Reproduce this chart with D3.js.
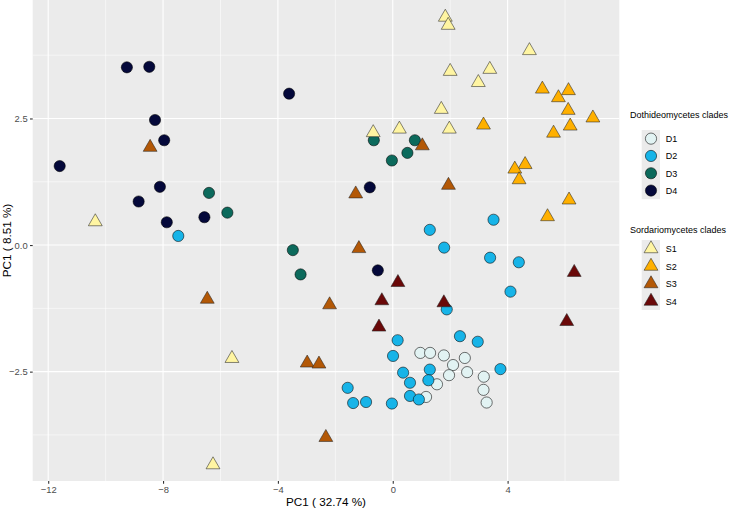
<!DOCTYPE html>
<html lang="en">
<head>
	<meta charset="utf-8">
	<title>PCA clades</title>
	<script src="https://d3js.org/d3.v7.min.js"></script>
	<style>
		body { margin: 0; background: #fff; }
		text { font-family: "Liberation Sans", Arial, sans-serif; }
	</style>
</head>
<body>
<div id="chart"></div>
<script>
// clade names and their point values [PC1, PC2]
const dClades = ["D1", "D2", "D3", "D4"];
const sClades = ["S1", "S2", "S3", "S4"];

const D1 = [[0.96,-2.13],[1.30,-2.13],[1.78,-2.18],[2.51,-2.23],[2.10,-2.37],[2.59,-2.51],
	[1.96,-2.57],[3.17,-2.60],[1.54,-2.75],[3.16,-2.86],[1.16,-3.00],[3.27,-3.11]];
const D2 = [[-7.47,0.18],[3.51,0.50],[1.29,0.30],[1.79,-0.05],[3.39,-0.25],[4.39,-0.34],
	[4.10,-0.92],[1.88,-1.27],[0.17,-1.88],[2.34,-1.80],[2.96,-1.91],[0.01,-2.19],
	[3.75,-2.45],[1.29,-2.46],[0.36,-2.52],[1.24,-2.67],[0.60,-2.72],[-1.57,-2.82],
	[0.60,-2.98],[0.91,-3.05],[-1.38,-3.12],[-0.93,-3.10],[-0.03,-3.13]];
const D3 = [[-6.40,1.03],[-5.76,0.64],[-0.66,2.07],[0.77,2.07],[0.51,1.82],[-0.03,1.67],
	[-3.48,-0.10],[-3.21,-0.58]];
const D4 = [[-9.26,3.51],[-8.48,3.52],[-3.61,2.99],[-8.28,2.47],[-7.96,2.07],[-11.60,1.56],
	[-8.11,1.15],[-8.85,0.86],[-7.87,0.45],[-6.56,0.55],[-0.80,1.14],[-0.52,-0.50]];
const S1 = [[1.83,4.50],[1.93,4.34],[4.76,3.84],[2.00,3.43],[3.38,3.47],[2.98,3.21],
	[1.69,2.68],[-0.68,2.22],[0.23,2.29],[1.97,2.29],[-10.36,0.46],[-5.60,-2.24],[-6.26,-4.34]];
const S2 = [[5.21,3.08],[6.12,3.05],[5.77,2.91],[6.11,2.66],[6.97,2.51],[3.16,2.37],
	[6.18,2.35],[5.60,2.21],[4.61,1.59],[4.25,1.50],[4.40,1.29],[6.14,0.89],[5.39,0.56]];
const S3 = [[-8.45,1.93],[1.03,1.96],[1.94,1.18],[-1.29,1.01],[-6.46,-1.07],[-1.18,-0.07],
	[-2.20,-1.18],[-2.98,-2.33],[-2.57,-2.35],[-2.33,-3.80]];
const S4 = [[0.18,-0.74],[-0.38,-1.10],[1.78,-1.14],[-0.48,-1.62],[6.32,-0.54],[6.06,-1.51]];

const xTicks = [-12, -8, -4, 0, 4];
const xMinor = [-10, -6, -2, 2, 6];
const yTicks = [-2.5, 0, 2.5];
const yMinor = [-3.75, -1.25, 1.25, 3.75];

const dColors = ["#e2f3f3", "#17b4e8", "#0c6a5c", "#04083a"];
const sColors = ["#fff5a2", "#ffb000", "#b35806", "#6a0808"];

const svgW = 731, svgH = 510;
const pLeft = 32.7, pRight = 619.3, pTop = 0, pBottom = 481;

let svg = d3.select("#chart").append("svg")
	.attr("width", svgW)
	.attr("height", svgH);

let x = d3.scaleLinear().domain([-12.54, 7.89]).range([pLeft, pRight]);
let y = d3.scaleLinear().domain([-4.66, 4.84]).range([pBottom, pTop]);

// panel background
svg.append("rect")
	.attr("x", pLeft).attr("y", pTop)
	.attr("width", pRight - pLeft).attr("height", pBottom - pTop)
	.attr("fill", "#ebebeb");

// grid lines, minor first
let grid = svg.append("g");
grid.selectAll(".vminor").data(xMinor).enter().append("line")
	.attr("x1", d => x(d)).attr("x2", d => x(d)).attr("y1", pTop).attr("y2", pBottom)
	.attr("stroke", "#fff").attr("stroke-width", 0.55);
grid.selectAll(".hminor").data(yMinor).enter().append("line")
	.attr("y1", d => y(d)).attr("y2", d => y(d)).attr("x1", pLeft).attr("x2", pRight)
	.attr("stroke", "#fff").attr("stroke-width", 0.55);
grid.selectAll(".vmajor").data(xTicks).enter().append("line")
	.attr("x1", d => x(d)).attr("x2", d => x(d)).attr("y1", pTop).attr("y2", pBottom)
	.attr("stroke", "#fff").attr("stroke-width", 1.1);
grid.selectAll(".hmajor").data(yTicks).enter().append("line")
	.attr("y1", d => y(d)).attr("y2", d => y(d)).attr("x1", pLeft).attr("x2", pRight)
	.attr("stroke", "#fff").attr("stroke-width", 1.1);

// axes
let xAxis = svg.append("g")
	.attr("transform", "translate(0," + pBottom + ")")
	.call(d3.axisBottom(x).tickValues(xTicks).tickSize(2.7).tickPadding(2.4).tickFormat(d3.format("d")));
let yAxis = svg.append("g")
	.attr("transform", "translate(" + pLeft + ",0)")
	.call(d3.axisLeft(y).tickValues(yTicks).tickSize(2.7).tickPadding(2.4).tickFormat(d3.format(".1f")));
[xAxis, yAxis].forEach(a => {
	a.select(".domain").remove();
	a.selectAll(".tick line").attr("stroke", "#333333").attr("stroke-width", 1.1);
	a.selectAll(".tick text").attr("fill", "#4d4d4d").style("font-size", "9.4px")
		.style("font-family", "Liberation Sans, Arial, sans-serif");
});

// axis titles
svg.append("text")
	.attr("x", (pLeft + pRight) / 2).attr("y", 506)
	.attr("text-anchor", "middle")
	.style("font-size", "11.7px")
	.text("PC1 ( 32.74 %)");
svg.append("text")
	.attr("transform", "translate(11," + ((pTop + pBottom) / 2) + ") rotate(-90)")
	.attr("text-anchor", "middle")
	.style("font-size", "11.7px")
	.text("PC1 ( 8.51 %)");

// points: circles first, triangles on top
let dData = [D1, D2, D3, D4];
let sData = [S1, S2, S3, S4];
let tri = d3.symbol().type(d3.symbolTriangle).size(83);

dData.forEach((arr, i) => {
	svg.append("g").selectAll("circle")
		.data(arr).enter().append("circle")
		.attr("cx", d => x(d[0]))
		.attr("cy", d => y(d[1]))
		.attr("r", 5.6)
		.attr("fill", dColors[i])
		.attr("stroke", "#000")
		.attr("stroke-width", 0.55);
});
sData.forEach((arr, i) => {
	svg.append("g").selectAll("path")
		.data(arr).enter().append("path")
		.attr("d", tri)
		.attr("transform", d => "translate(" + x(d[0]) + "," + y(d[1]) + ")")
		.attr("fill", sColors[i])
		.attr("stroke", "#222")
		.attr("stroke-width", 0.55);
});

// legends
function drawLegend(title, titleY, keyTop, names, colors, isTri) {
	let g = svg.append("g");
	let step = isTri ? 17.5 : 17.3;
	g.append("text")
		.attr("x", 630).attr("y", titleY)
		.style("font-size", "9px")
		.text(title);
	g.append("rect")
		.attr("x", 641.7).attr("y", keyTop)
		.attr("width", 18.3).attr("height", step * names.length)
		.attr("fill", "#ebebeb");
	names.forEach((n, i) => {
		let cy = keyTop + step * (i + 0.5);
		if (isTri) {
			g.append("path").attr("d", tri)
				.attr("transform", "translate(651," + cy + ")")
				.attr("fill", colors[i]).attr("stroke", "#222").attr("stroke-width", 0.55);
		} else {
			g.append("circle").attr("cx", 651).attr("cy", cy).attr("r", 5.6)
				.attr("fill", colors[i]).attr("stroke", "#000").attr("stroke-width", 0.55);
		}
		g.append("text")
			.attr("x", 665.7).attr("y", cy + 3.3)
			.style("font-size", "9px")
			.text(n);
	});
}
drawLegend("Dothideomycetes clades", 118.4, 130, dClades, dColors, false);
drawLegend("Sordariomycetes clades", 233.4, 240, sClades, sColors, true);
</script>
</body>
</html>
